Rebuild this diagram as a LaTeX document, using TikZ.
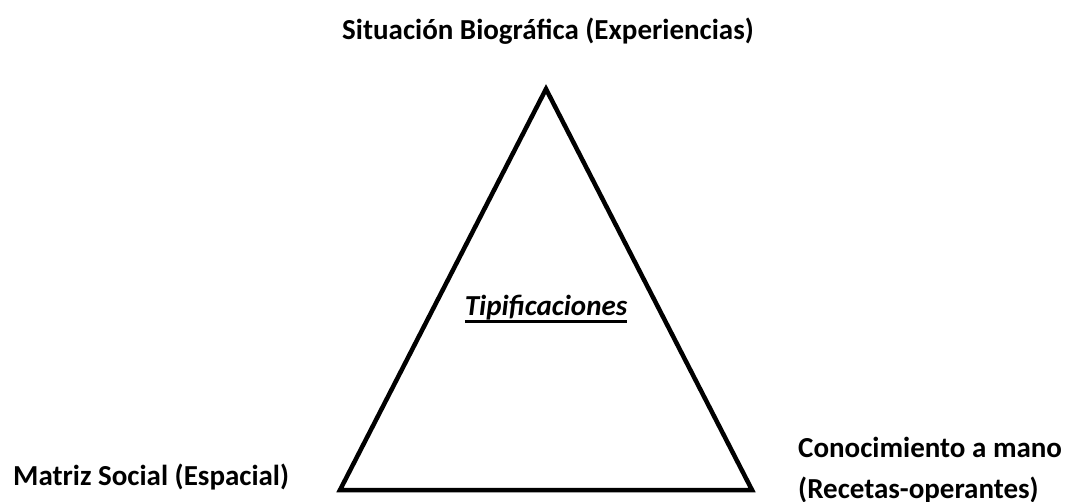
\documentclass[tikz,border=0pt]{standalone}
\usepackage{fontspec}
\setmainfont{Carlito}
\newsavebox{\ulbox}
\newcommand{\thickul}[1]{\sbox{\ulbox}{#1}\rlap{\usebox{\ulbox}}\rule[-7pt]{\wd\ulbox}{3pt}}

\begin{document}
\begin{tikzpicture}[x=1pt, y=-1pt,
                lbl/.style={inner sep=0pt, font=\fontsize{29}{41}\selectfont\bfseries},
                side/.style={draw, line width=4.5pt, line join=miter}]
                \useasboundingbox (0,0) rectangle (1070,502);
                \coordinate (apex)  at (546,89);
                \coordinate (left)  at (340,490);
                \coordinate (right) at (752,490);
                \draw[side] (apex) -- (left) -- (right) -- cycle;

                \node[lbl, anchor=base]      (bio)  at (548,40)  {Situación Biográfica (Experiencias)};
                \node[lbl, anchor=base west] (mat)  at (13,485)  {Matriz Social (Espacial)};
                % base of a two-line node is its last line
                \node[lbl, anchor=base west, align=left] (con) at (798,498)
                    {Conocimiento a mano\\(Recetas-operantes)};
                \node[lbl, anchor=base]      (tip)  at (546,316) {\thickul{\itshape Tipificaciones}};
            \end{tikzpicture}
\end{document}
